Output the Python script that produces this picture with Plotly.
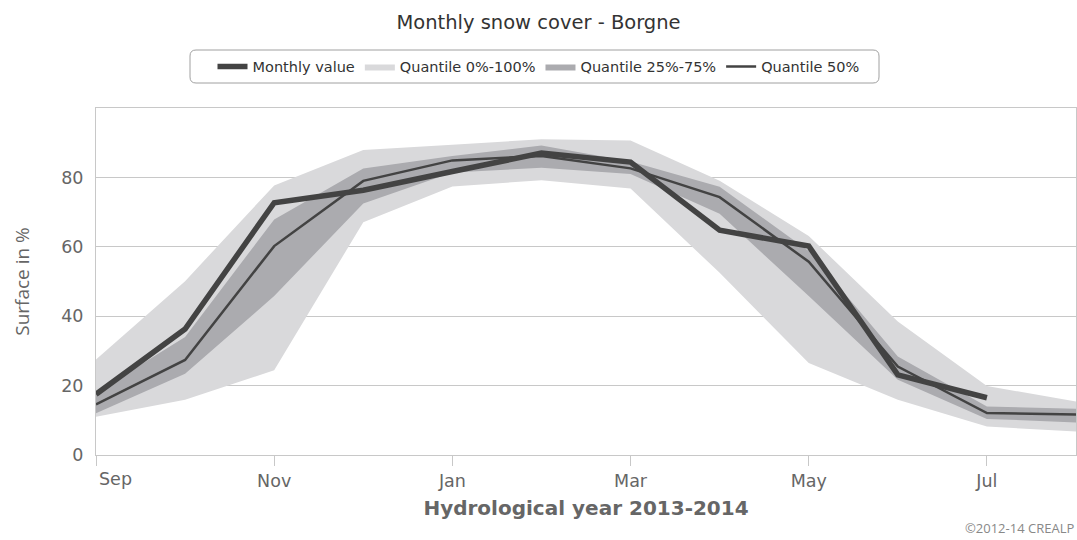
import plotly.graph_objects as go

# Hydrological year months (Sep 2013 - Aug 2014)
months = ["Sep", "Oct", "Nov", "Dec", "Jan", "Feb", "Mar", "Apr", "May", "Jun", "Jul", "Aug"]
tick_labels = ["Sep", "Nov", "Jan", "Mar", "May", "Jul"]

# Snow-covered surface in % of the Borgne catchment
monthly_value = [17.5, 36.3, 72.7, 76.3, 81.7, 87.0, 84.4, 64.8, 60.2, 23.1, 16.5, None]
q_min = [11.0, 15.9, 24.4, 67.1, 77.4, 79.2, 76.8, 52.5, 26.5, 15.9, 8.2, 6.8]
q_max = [27.5, 50.1, 77.7, 87.9, 89.4, 91.0, 90.6, 79.0, 63.1, 38.5, 19.9, 15.4]
q25 = [12.0, 23.4, 45.8, 72.5, 81.4, 82.8, 81.0, 69.5, 45.8, 21.7, 10.4, 9.4]
q75 = [18.0, 34.0, 67.9, 82.6, 86.2, 89.2, 84.6, 77.3, 58.8, 28.4, 14.0, 13.3]
q50 = [14.6, 27.4, 60.2, 79.0, 84.9, 86.2, 82.6, 74.3, 55.7, 25.5, 12.1, 11.7]

x = list(range(len(months)))
tick_vals = [months.index(m) for m in tick_labels]

LIGHT = "#d9d9db"
DARK = "#ababaf"
LINE = "#434343"
TXT = "#666666"
WIDE = "DejaVu Sans, Verdana, sans-serif"
NARROW = "Open Sans, sans-serif"

fig = go.Figure()

# 0%-100% envelope
fig.add_trace(go.Scatter(x=x, y=q_max, mode="lines", line=dict(width=0, color=LIGHT),
                         showlegend=False, hoverinfo="skip"))
fig.add_trace(go.Scatter(x=x, y=q_min, mode="lines", line=dict(width=0, color=LIGHT),
                         fill="tonexty", fillcolor=LIGHT, name="Quantile 0%-100%", legendrank=2))
# 25%-75% envelope
fig.add_trace(go.Scatter(x=x, y=q75, mode="lines", line=dict(width=0, color=DARK),
                         showlegend=False, hoverinfo="skip"))
fig.add_trace(go.Scatter(x=x, y=q25, mode="lines", line=dict(width=0, color=DARK),
                         fill="tonexty", fillcolor=DARK, name="Quantile 25%-75%", legendrank=3))
# Median
fig.add_trace(go.Scatter(x=x, y=q50, mode="lines", line=dict(width=2.5, color=LINE),
                         name="Quantile 50%", legendrank=4))
# Current year
fig.add_trace(go.Scatter(x=x, y=monthly_value, mode="lines", line=dict(width=5.5, color=LINE),
                         name="Monthly value", legendrank=1))

# Plot-area geometry in pixels
W, H = 1077, 540
ML, MR, MT, MB = 96, 1, 108, 85
pw, ph = W - ML - MR, H - MT - MB


def px(xp):
    return (xp - ML) / pw


def py(yp):
    return (H - MB - yp) / ph


# Rounded frame around the legend
bx0, bx1, by0, by1, r = 190, 879, 50, 83, 6
path = (f"M {px(bx0 + r)} {py(by0)} L {px(bx1 - r)} {py(by0)} "
        f"Q {px(bx1)} {py(by0)} {px(bx1)} {py(by0 + r)} L {px(bx1)} {py(by1 - r)} "
        f"Q {px(bx1)} {py(by1)} {px(bx1 - r)} {py(by1)} L {px(bx0 + r)} {py(by1)} "
        f"Q {px(bx0)} {py(by1)} {px(bx0)} {py(by1 - r)} L {px(bx0)} {py(by0 + r)} "
        f"Q {px(bx0)} {py(by0)} {px(bx0 + r)} {py(by0)} Z")
fig.add_shape(type="path", path=path, xref="paper", yref="paper",
              line=dict(color="#a0a0a0", width=1), layer="above")

# First month label sits just inside the plot's left edge
tick_text = [""] + tick_labels[1:]
first_label = dict(text=tick_labels[0], xref="x", yref="paper", x=tick_vals[0],
                   xanchor="left", xshift=1, y=-(479 - (H - MB)) / ph, yanchor="middle",
                   showarrow=False, font=dict(size=17.5, color=TXT, family=WIDE))

fig.update_layout(
    width=W, height=H,
    margin=dict(l=ML, r=MR, t=MT, b=MB),
    paper_bgcolor="white", plot_bgcolor="white",
    font=dict(family=WIDE, color=TXT),
    title=dict(text="Monthly snow cover - Borgne", x=0.5, xanchor="center",
               y=1 - 22 / H, yanchor="middle", yref="container",
               font=dict(size=19.5, color="#333333", family=WIDE)),
    legend=dict(orientation="h", x=0.5, xanchor="center", xref="container",
                y=1 - 66.5 / H, yanchor="middle", yref="container", traceorder="normal",
                font=dict(size=14.5, color="#333333", family=WIDE),
                bgcolor="rgba(0,0,0,0)", itemwidth=30, tracegroupgap=0),
    xaxis=dict(range=[0, 11], tickmode="array", tickvals=tick_vals, ticktext=tick_text,
               showgrid=False, zeroline=False, showline=True, linecolor="#c8c8c8",
               mirror=True, ticks="outside", ticklen=10, tickcolor="#c8c8c8",
               tickfont=dict(size=17.5, color=TXT, family=WIDE),
               title=dict(text="<b>Hydrological year 2013-2014</b>", standoff=10,
                          font=dict(size=20, color=TXT, family=WIDE))),
    yaxis=dict(range=[0, 100], tickvals=[0, 20, 40, 60, 80], showgrid=True,
               gridcolor="#c8c8c8", zeroline=False, showline=True, linecolor="#c8c8c8",
               mirror=True, ticks="", ticklabelstandoff=8,
               tickfont=dict(size=17.5, color=TXT, family=WIDE),
               title=dict(text="Surface in %", standoff=26,
                          font=dict(size=19, color=TXT, family=NARROW))),
    annotations=[first_label,
                 dict(text="©2012-14 CREALP", xref="paper", yref="paper",
                      x=1, xanchor="right", y=-(528 - (H - MB)) / ph, yanchor="middle",
                      showarrow=False, font=dict(size=13, color="#888888", family=NARROW))],
)

fig.write_html("out.html")
